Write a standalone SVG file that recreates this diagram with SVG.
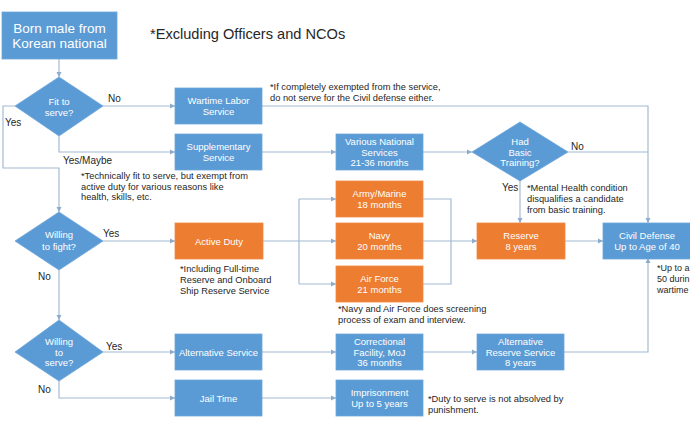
<svg xmlns="http://www.w3.org/2000/svg" width="690" height="438" viewBox="0 0 690 438">
<defs>
<marker id="arr" markerUnits="userSpaceOnUse" markerWidth="6" markerHeight="6" refX="5" refY="3" orient="auto">
<path d="M0,0.5 L5,3 L0,5.5 Z" fill="#8FABCB"/>
</marker>
</defs>
<style>
.b{fill:#5B9BD5;stroke:#6DA6DA;stroke-width:0.8}
.o{fill:#ED7D31;stroke:#F08A45;stroke-width:0.8}
.t{font-family:"Liberation Sans",Arial,sans-serif;font-size:9.5px;fill:#FFFFFF;text-anchor:middle}
.n{font-family:"Liberation Sans",Arial,sans-serif;font-size:9.3px;fill:#262626}
.l{font-family:"Liberation Sans",Arial,sans-serif;font-size:10px;fill:#262626}
.c{fill:none;stroke:#A3BAD4;stroke-width:1.2}
.ca{fill:none;stroke:#A3BAD4;stroke-width:1.2;marker-end:url(#arr)}
</style>
<rect width="690" height="438" fill="#FFFFFF"/>

<g id="connectors">
<path class="ca" d="M59,59 V77"/>
<path class="ca" d="M103,106 H175"/>
<path class="ca" d="M15,106 H3 V168 H59 V212"/>
<path class="ca" d="M59,136 V152 H175"/>
<path class="ca" d="M262,106 H648 V223"/>
<path class="ca" d="M262,152 H336"/>
<path class="ca" d="M423,152 H472"/>
<path class="c" d="M568,152 H648"/>
<path class="ca" d="M520,180 V223"/>
<path class="ca" d="M103,241 H175"/>
<path class="ca" d="M59,270 V320"/>
<path class="c" d="M263,241 H299 M299,199 V284"/>
<path class="ca" d="M299,199 H336"/>
<path class="ca" d="M299,241 H336"/>
<path class="ca" d="M299,284 H336"/>
<path class="c" d="M423,199 H451 V284 H423"/>
<path class="ca" d="M423,241 H477"/>
<path class="ca" d="M565,241 H603"/>
<path class="ca" d="M103,352 H175"/>
<path class="ca" d="M59,381 V398 H175"/>
<path class="ca" d="M262,352 H336"/>
<path class="ca" d="M423,352 H477"/>
<path class="ca" d="M564,352 H648 V258"/>
<path class="ca" d="M262,398 H336"/>
</g>

<g id="start">
<rect class="b" x="2" y="12" width="115" height="47"/>
<text class="t" style="font-size:13.5px" x="59.5" y="33">Born male from</text>
<text class="t" style="font-size:13.5px" x="59.5" y="48">Korean national</text>
</g>

<g id="title">
<text x="150" y="39" style="font-family:'Liberation Sans',Arial,sans-serif;font-size:14.6px;fill:#262626">*Excluding Officers and NCOs</text>
</g>

<g id="fit">
<polygon class="b" points="59,77 103,106 59,136 15,106"/>
<text class="t" x="59" y="105">Fit to</text>
<text class="t" x="59" y="115.5">serve?</text>
</g>

<g id="labels">
<text class="l" x="108" y="102">No</text>
<text class="l" x="5" y="126">Yes</text>
<text class="l" x="63" y="164">Yes/Maybe</text>
<text class="l" x="103" y="237">Yes</text>
<text class="l" x="38" y="280">No</text>
<text class="l" x="106" y="350">Yes</text>
<text class="l" x="38" y="393">No</text>
<text class="l" x="571" y="150">No</text>
<text class="l" x="502" y="191">Yes</text>
</g>

<g id="wartime">
<rect class="b" x="175" y="88" width="87" height="36"/>
<text class="t" x="218.5" y="104">Wartime Labor</text>
<text class="t" x="218.5" y="115">Service</text>
</g>
<g id="note-wartime">
<text class="n" x="270" y="90">*If completely exempted from the service,</text>
<text class="n" x="270" y="100.5">do not serve for the Civil defense either.</text>
</g>

<g id="supplementary">
<rect class="b" x="175" y="134" width="87" height="36"/>
<text class="t" x="218.5" y="150">Supplementary</text>
<text class="t" x="218.5" y="161">Service</text>
</g>
<g id="note-supp">
<text class="n" x="81" y="179">*Technically fit to serve, but exempt from</text>
<text class="n" x="81" y="189.5">active duty for various reasons like</text>
<text class="n" x="81" y="200">health, skills, etc.</text>
</g>

<g id="various">
<rect class="b" x="336" y="134" width="87" height="36"/>
<text class="t" x="379.5" y="145">Various National</text>
<text class="t" x="379.5" y="155.5">Services</text>
<text class="t" x="379.5" y="166">21-36 months</text>
</g>

<g id="basic">
<polygon class="b" points="520,122 568,152 520,181 472,152"/>
<text class="t" x="520" y="145">Had</text>
<text class="t" x="520" y="155.5">Basic</text>
<text class="t" x="520" y="166">Training?</text>
</g>
<g id="note-mental">
<text class="n" x="527" y="191">*Mental Health condition</text>
<text class="n" x="527" y="202">disqualifies a candidate</text>
<text class="n" x="527" y="213">from basic training.</text>
</g>

<g id="fight">
<polygon class="b" points="59,212 103,241 59,270 15,241"/>
<text class="t" x="59" y="238">Willing</text>
<text class="t" x="59" y="250">to fight?</text>
</g>

<g id="active">
<rect class="o" x="175" y="223" width="88" height="36"/>
<text class="t" x="219" y="244.5">Active Duty</text>
</g>
<g id="note-active">
<text class="n" x="180" y="272">*Including Full-time</text>
<text class="n" x="180" y="283">Reserve and Onboard</text>
<text class="n" x="180" y="294">Ship Reserve Service</text>
</g>

<g id="army">
<rect class="o" x="336" y="181" width="87" height="36"/>
<text class="t" x="379.5" y="197">Army/Marine</text>
<text class="t" x="379.5" y="208">18 months</text>
</g>
<g id="navy">
<rect class="o" x="336" y="223" width="87" height="36"/>
<text class="t" x="379.5" y="239">Navy</text>
<text class="t" x="379.5" y="250">20 months</text>
</g>
<g id="airforce">
<rect class="o" x="336" y="266" width="87" height="36"/>
<text class="t" x="379.5" y="282">Air Force</text>
<text class="t" x="379.5" y="293">21 months</text>
</g>
<g id="note-navy">
<text class="n" x="338" y="312">*Navy and Air Force does screening</text>
<text class="n" x="338" y="323">process of exam and interview.</text>
</g>

<g id="reserve">
<rect class="o" x="477" y="223" width="88" height="36"/>
<text class="t" x="521" y="239">Reserve</text>
<text class="t" x="521" y="250">8 years</text>
</g>

<g id="civil">
<rect class="b" x="603" y="223" width="88" height="36"/>
<text class="t" x="647" y="239">Civil Defense</text>
<text class="t" x="647" y="250">Up to Age of 40</text>
</g>
<g id="note-civil">
<text class="n" style="font-size:9px" x="657" y="271">*Up to a</text>
<text class="n" style="font-size:9px" x="657" y="282">50 durin</text>
<text class="n" style="font-size:9px" x="657" y="293">wartime</text>
</g>

<g id="serve">
<polygon class="b" points="59,320 103,352 59,381 15,352"/>
<text class="t" x="59" y="345">Willing</text>
<text class="t" x="59" y="355.5">to</text>
<text class="t" x="59" y="366">serve?</text>
</g>

<g id="alternative">
<rect class="b" x="175" y="334" width="87" height="36"/>
<text class="t" x="218.5" y="355.5">Alternative Service</text>
</g>
<g id="correctional">
<rect class="b" x="336" y="334" width="87" height="36"/>
<text class="t" x="379.5" y="345">Correctional</text>
<text class="t" x="379.5" y="355.5">Facility, MoJ</text>
<text class="t" x="379.5" y="366">36 months</text>
</g>
<g id="altreserve">
<rect class="b" x="477" y="334" width="87" height="36"/>
<text class="t" x="520.5" y="345">Alternative</text>
<text class="t" x="520.5" y="355.5">Reserve Service</text>
<text class="t" x="520.5" y="366">8 years</text>
</g>

<g id="jail">
<rect class="b" x="175" y="380" width="87" height="36"/>
<text class="t" x="218.5" y="401.5">Jail Time</text>
</g>
<g id="imprisonment">
<rect class="b" x="336" y="380" width="87" height="36"/>
<text class="t" x="379.5" y="396">Imprisonment</text>
<text class="t" x="379.5" y="407">Up to 5 years</text>
</g>
<g id="note-jail">
<text class="n" x="428" y="402">*Duty to serve is not absolved by</text>
<text class="n" x="428" y="413">punishment.</text>
</g>
</svg>
